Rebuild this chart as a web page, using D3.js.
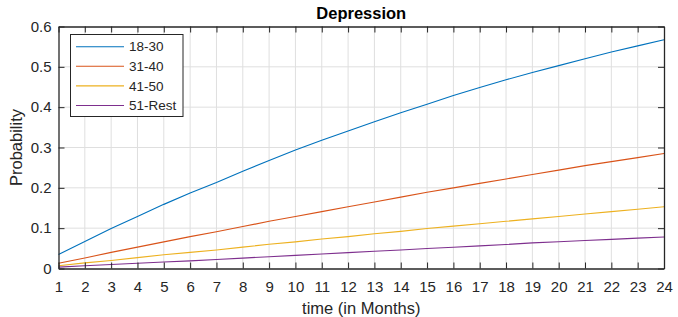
<!DOCTYPE html>
<html>
<head>
<meta charset="utf-8">
<script src="https://cdn.jsdelivr.net/npm/d3@7"></script>
<style>
  body { margin: 0; background: #fff; }
  svg { font-family: "Liberation Sans", Arial, sans-serif; }
</style>
</head>
<body>
<svg id="chart" width="678" height="317"></svg>
<script>
// months on the x axis
var months = d3.range(1, 25);
var seriesNames = ["18-30", "31-40", "41-50", "51-Rest"];
var seriesColors = ["#0072BD", "#D95319", "#EDB120", "#7E2F8E"];

// values
var age18to30 = [0.035, 0.067, 0.099, 0.129, 0.159, 0.187, 0.213, 0.241, 0.268, 0.294, 0.318, 0.341,
                 0.364, 0.386, 0.407, 0.429, 0.449, 0.468, 0.486, 0.503, 0.520, 0.537, 0.552, 0.567];
var age31to40 = [0.013, 0.026, 0.040, 0.053, 0.066, 0.079, 0.091, 0.104, 0.117, 0.129, 0.141, 0.153,
                 0.165, 0.177, 0.189, 0.200, 0.211, 0.222, 0.233, 0.244, 0.255, 0.265, 0.275, 0.285];
var age41to50 = [0.007, 0.014, 0.020, 0.027, 0.034, 0.040, 0.046, 0.053, 0.060, 0.066, 0.073, 0.079,
                 0.086, 0.092, 0.099, 0.105, 0.111, 0.117, 0.123, 0.129, 0.135, 0.141, 0.147, 0.153];
var age51rest = [0.0035, 0.0067, 0.0098, 0.013, 0.016, 0.019, 0.0223, 0.0258, 0.0292, 0.0326, 0.036, 0.0393,
                 0.0427, 0.046, 0.0494, 0.0528, 0.0562, 0.0595, 0.0636, 0.0665, 0.0694, 0.0723, 0.0752, 0.078];
var yTicks = [0, 0.1, 0.2, 0.3, 0.4, 0.5, 0.6];

var allSeries = [age18to30, age31to40, age41to50, age51rest];

var svg = d3.select("#chart");
var margin = {top: 26.5, right: 14, bottom: 48.5, left: 58.5};
var width = 678 - margin.left - margin.right;
var height = 317 - margin.top - margin.bottom;
var axisColor = "#262626";

var g = svg.append("g")
    .attr("transform", "translate(" + margin.left + "," + margin.top + ")");

var x = d3.scaleLinear().domain([1, 24]).range([0, width]);
var y = d3.scaleLinear().domain([0, 0.6]).range([height, 0]);

// grid
g.append("g")
    .selectAll("line")
    .data(months.slice(1, -1))
    .enter().append("line")
    .attr("x1", function (d) { return x(d); })
    .attr("x2", function (d) { return x(d); })
    .attr("y1", 0).attr("y2", height)
    .attr("stroke", "#dfdfdf").attr("stroke-width", 1);

g.append("g")
    .selectAll("line")
    .data(yTicks.slice(1, -1))
    .enter().append("line")
    .attr("y1", function (d) { return y(d); })
    .attr("y2", function (d) { return y(d); })
    .attr("x1", 0).attr("x2", width)
    .attr("stroke", "#dfdfdf").attr("stroke-width", 1);

// series
var line = d3.line()
    .x(function (d, i) { return x(months[i]); })
    .y(function (d) { return y(d); });

g.append("g")
    .selectAll("path")
    .data(allSeries)
    .enter().append("path")
    .attr("d", line)
    .attr("fill", "none")
    .attr("stroke", function (d, i) { return seriesColors[i]; })
    .attr("stroke-width", 1.1);

// axes (box with inward ticks on all sides)
function styleAxis(sel) {
    sel.select(".domain").attr("stroke", axisColor);
    sel.selectAll(".tick line").attr("stroke", axisColor);
    sel.selectAll(".tick text").attr("fill", axisColor);
}

g.append("g")
    .attr("transform", "translate(0," + height + ")")
    .call(d3.axisBottom(x).tickValues(months).tickSize(-6).tickSizeOuter(0).tickPadding(13))
    .style("font-size", "15px")
    .call(styleAxis);

g.append("g")
    .call(d3.axisTop(x).tickValues(months).tickSize(-6).tickSizeOuter(0).tickFormat(""))
    .call(styleAxis);

g.append("g")
    .call(d3.axisLeft(y).tickValues(yTicks).tickSize(-6).tickSizeOuter(0).tickPadding(7)
        .tickFormat(function (d) { return d === 0 ? "0" : d3.format(".1f")(d); }))
    .style("font-size", "15px")
    .call(styleAxis);

g.append("g")
    .attr("transform", "translate(" + width + ",0)")
    .call(d3.axisRight(y).tickValues(yTicks).tickSize(-6).tickSizeOuter(0).tickFormat(""))
    .call(styleAxis);

g.selectAll(".domain").attr("stroke-width", 1.3);

// titles
svg.append("text")
    .attr("x", margin.left + width / 2)
    .attr("y", 18.5)
    .attr("text-anchor", "middle")
    .attr("font-weight", "bold")
    .attr("font-size", "16.5px")
    .attr("fill", "#000")
    .text("Depression");

svg.append("text")
    .attr("x", margin.left + width / 2)
    .attr("y", 314)
    .attr("text-anchor", "middle")
    .attr("font-size", "16.5px")
    .attr("fill", axisColor)
    .text("time (in Months)");

svg.append("text")
    .attr("transform", "translate(22," + (margin.top + height / 2) + ") rotate(-90)")
    .attr("text-anchor", "middle")
    .attr("font-size", "16.5px")
    .attr("fill", axisColor)
    .text("Probability");

// legend
var legendG = g.append("g")
    .attr("transform", "translate(" + (70.5 - margin.left) + "," + (34.5 - margin.top) + ")");

legendG.append("rect")
    .attr("width", 112.5)
    .attr("height", 82)
    .attr("fill", "#fff")
    .attr("stroke", axisColor)
    .attr("stroke-width", 1);

var legendItem = legendG.selectAll(".item")
    .data(seriesNames)
    .enter().append("g")
    .attr("class", "item")
    .attr("transform", function (d, i) { return "translate(0," + (12.2 + i * 19.6) + ")"; });

legendItem.append("line")
    .attr("x1", 5.5).attr("x2", 53.5)
    .attr("stroke", function (d, i) { return seriesColors[i]; })
    .attr("stroke-width", 1.1);

legendItem.append("text")
    .attr("x", 58.5)
    .attr("dy", "0.35em")
    .attr("font-size", "13.5px")
    .attr("fill", axisColor)
    .text(function (d) { return d; });
</script>
</body>
</html>
